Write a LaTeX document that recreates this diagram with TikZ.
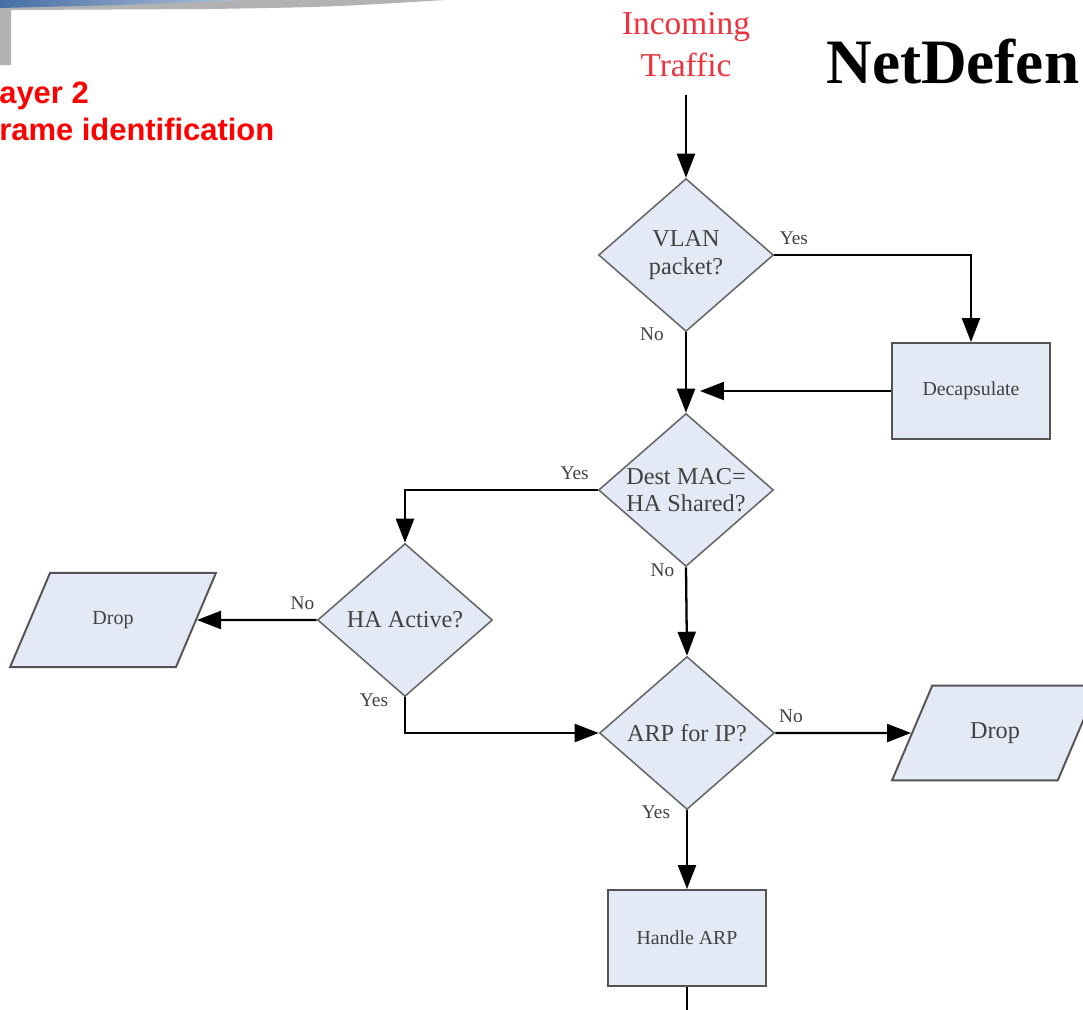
\documentclass[tikz,border=0pt]{standalone}
\usepackage{fontspec}
\setmainfont{Liberation Serif}
\newfontfamily\arialfont{Liberation Sans}
\usetikzlibrary{shapes.geometric, arrows.meta, positioning}
\definecolor{boxfill}{RGB}{227,234,246}
\definecolor{boxline}{RGB}{105,105,105}
\definecolor{labelgray}{RGB}{65,65,65}
\definecolor{titlered}{RGB}{238,50,60}
\definecolor{stripblue}{RGB}{70,110,165}
\tikzstyle{arrow} = [line width=1.3pt,-{Triangle[length=0.48cm,width=0.36cm]}]
\tikzstyle{line} = [line width=1.3pt]

\begin{document}
\begin{tikzpicture}
        [
            x=0.02cm, y=-0.02cm,
            decision/.style={diamond, draw=boxline, fill=boxfill, line width=0.9pt, aspect=1.14, inner sep=0pt, minimum width=3.5cm, minimum height=3.06cm, align=center, text=labelgray, font=\fontsize{13.8}{15.5}\selectfont},
            process/.style={rectangle, draw=boxline!80!black, fill=boxfill, line width=1.1pt, minimum width=3.16cm, minimum height=1.92cm, text=labelgray, font=\fontsize{11.3}{13}\selectfont},
            io/.style={trapezium, trapezium left angle=67, trapezium right angle=113, trapezium stretches body=true, draw=boxline!80!black, fill=boxfill, line width=1.1pt, minimum width=4.12cm, inner ysep=0.77cm, text=labelgray},
            answer/.style={text=labelgray, inner sep=0pt, font=\fontsize{11}{12}\selectfont},
        ]

    \useasboundingbox (0,0) rectangle (1083,1009);
    \fill[white] (0,0) rectangle (1083,1009);

    % slide header strip
    \fill[gray!60] (0,0) -- (445,0) .. controls (330,7) .. (210,9) -- (11,10) -- (11,65) -- (0,65) -- cycle;
    \shade[left color=stripblue, right color=stripblue!40] (0,0) -- (250,0) -- (120,5) -- (0,8) -- cycle;

    % titles
    \node[anchor=north west, inner sep=0pt, align=left, text=red, font=\arialfont\bfseries\fontsize{17.6}{21}\selectfont] (slidetitle) at (-1,82) {ayer 2\\rame identification};
    \node[anchor=north, inner sep=0pt, align=center, text=titlered, font=\fontsize{19}{23.9}\selectfont] (incoming) at (686,12) {Incoming\\Traffic};
    \node[anchor=base west, inner sep=0pt, font=\bfseries\fontsize{36}{40}\selectfont] (netdef) at (826,83) {NetDefen};

    % flow chart
    \node[decision] (vlan) at (686,255) {VLAN\\packet?};
    \node[process] (decap) at (971,391) {Decapsulate};
    \node[decision] (destmac) at (686,490) {Dest MAC=\\HA Shared?};
    \node[decision] (haactive) at (405,620) {HA Active?};
    \node[io, font=\fontsize{11.4}{13}\selectfont] (dropleft) at (113,620) {Drop};
    \node[decision] (arp) at (687,733) {ARP for IP?};
    \node[io, inner ysep=0.737cm, font=\fontsize{13.8}{15}\selectfont] (dropright) at (995,733) {Drop};
    \node[process] (handle) at (687,938) {Handle ARP};

    \coordinate (start) at (686,95);
    \coordinate (out) at (687,1012);

    \draw[arrow] (start) -- (vlan.north);
    \draw[arrow] (vlan.east) -| node[answer, pos=0.05, above=5pt] {Yes} (decap.north);
    \draw[arrow] (vlan.south) -- node[answer, pos=0.02, left=12pt] {No} (destmac.north);
    \draw[arrow] (decap.west) -- ([xshift=0.28cm]decap.west -| vlan.south);
    \draw[arrow] (destmac.west) -| node[answer, pos=0.06, above=5pt] {Yes} (haactive.north);
    \draw[arrow] (destmac.south) -- node[answer, pos=0.03, left=6pt] {No} (arp.north);
    \draw[arrow] (haactive.west) -- node[answer, pos=0.12, above=5pt] {No} (dropleft.east);
    \draw[arrow] (haactive.south) |- node[answer, pos=0.04, left=9pt] {Yes} (arp.west);
    \draw[arrow] (arp.east) -- node[answer, pos=0.115, above=5pt] {No} (dropright.west);
    \draw[arrow] (arp.south) -- node[answer, pos=0.03, left=9pt] {Yes} (handle.north);
    \draw[line] (handle.south) -- (out);
    \end{tikzpicture}
\end{document}
